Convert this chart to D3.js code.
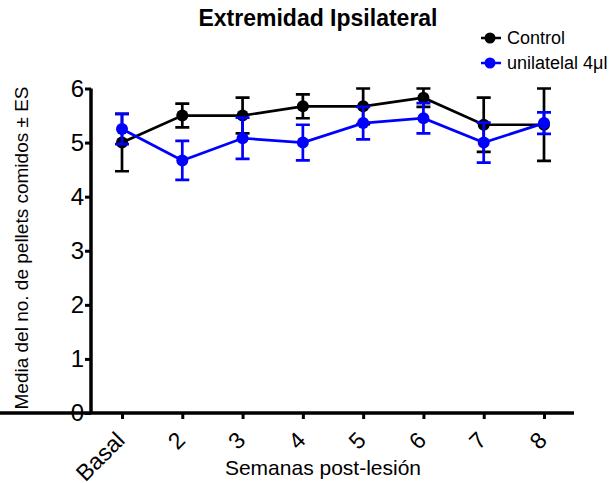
<!DOCTYPE html>
<html>
<head>
<meta charset="utf-8">
<script src="https://cdn.jsdelivr.net/npm/d3@7"></script>
<style>
  body { margin: 0; background: #fff; }
  text { font-family: "Liberation Sans", Arial, sans-serif; }
</style>
</head>
<body>
<div id="chart"></div>
<script>
// Extremidad ipsilateral: media de pellets comidos por semana
const weeks = ["Basal", "2", "3", "4", "5", "6", "7", "8"];
const controlMean = [5.0, 5.5, 5.5, 5.67, 5.67, 5.83, 5.33, 5.33];
const controlErr  = [0.53, 0.22, 0.33, 0.22, 0.33, 0.17, 0.5, 0.67];
const lesionMean  = [5.25, 4.67, 5.08, 5.0, 5.36, 5.45, 5.0, 5.36];
const lesionErr   = [0.28, 0.36, 0.38, 0.33, 0.3, 0.28, 0.37, 0.2];
const yTicks = [0, 1, 2, 3, 4, 5, 6];

const series = [
  {name: "Control", color: "#000", mean: controlMean, err: controlErr},
  {name: "unilatelal 4\u03bcl", color: "#0000ff", mean: lesionMean, err: lesionErr}
];

const width = 614, height = 483;
const svg = d3.select("#chart")
  .append("svg")
  .attr("width", width)
  .attr("height", height);

const x = d3.scalePoint()
  .domain(weeks)
  .range([122, 544]);

const y = d3.scaleLinear()
  .domain([0, 6])
  .range([413, 88.5]);

// axes
const yAxis = svg.append("g")
  .attr("transform", "translate(91,0)")
  .call(d3.axisLeft(y).tickValues(yTicks).tickFormat(d3.format("d")).tickSize(6).tickPadding(1));

const xAxis = svg.append("g")
  .attr("transform", "translate(0,413)")
  .call(d3.axisBottom(x).tickSize(6).tickPadding(4));

[yAxis, xAxis].forEach(g => {
  g.select(".domain").attr("stroke", "#000").attr("stroke-width", 3.5);
  g.selectAll(".tick line").attr("stroke", "#000").attr("stroke-width", 3);
  g.selectAll(".tick text")
    .attr("fill", "#000")
    .style("font-family", "'Liberation Sans', Arial, sans-serif");
});
yAxis.selectAll(".tick text").style("font-size", "24px");

// remove the outer tick marks from the domain path
yAxis.select(".domain").attr("d", `M0,${y(6)}V${y(0)}`);
xAxis.select(".domain").attr("d", `M-2,0H574`);

xAxis.selectAll(".tick text")
  .style("font-size", "23px")
  .attr("x", 0)
  .attr("y", 0)
  .attr("text-anchor", "end")
  .attr("dy", "0.35em")
  .attr("transform", "translate(-2,23) rotate(-45)");

// series
series.forEach(s => {
  const g = svg.append("g");
  const pts = weeks.map((w, i) => ({w, m: s.mean[i], e: s.err[i]}));

  g.append("path")
    .datum(pts)
    .attr("fill", "none")
    .attr("stroke", s.color)
    .attr("stroke-width", 2.7)
    .attr("d", d3.line().x(d => x(d.w)).y(d => y(d.m)));

  g.selectAll(".err")
    .data(pts)
    .enter()
    .append("path")
    .attr("fill", "none")
    .attr("stroke", s.color)
    .attr("stroke-width", 2.7)
    .attr("d", d => {
      const cx = x(d.w), hi = y(d.m + d.e), lo = y(d.m - d.e);
      return `M${cx},${hi}V${lo}M${cx - 7},${hi}H${cx + 7}M${cx - 7},${lo}H${cx + 7}`;
    });

  g.selectAll("circle")
    .data(pts)
    .enter()
    .append("circle")
    .attr("cx", d => x(d.w))
    .attr("cy", d => y(d.m))
    .attr("r", 6)
    .attr("fill", s.color);
});

// title & labels
svg.append("text")
  .attr("x", 318)
  .attr("y", 26)
  .attr("text-anchor", "middle")
  .style("font-size", "23px")
  .style("font-weight", "bold")
  .text("Extremidad Ipsilateral");

svg.append("text")
  .attr("x", 323)
  .attr("y", 475)
  .attr("text-anchor", "middle")
  .style("font-size", "21px")
  .text("Semanas post-lesión");

svg.append("text")
  .attr("transform", "translate(28,248) rotate(-90)")
  .attr("text-anchor", "middle")
  .style("font-size", "19px")
  .text("Media del no. de pellets comidos \u00b1 ES");

// legend
const legend = svg.append("g")
  .attr("transform", "translate(481,38)");

series.forEach((s, i) => {
  const row = legend.append("g").attr("transform", `translate(0,${i * 25})`);
  row.append("line")
    .attr("x1", 0).attr("x2", 20)
    .attr("stroke", s.color).attr("stroke-width", 2.5);
  row.append("circle")
    .attr("cx", 9).attr("r", 5.5).attr("fill", s.color);
  row.append("text")
    .attr("x", 26)
    .attr("dy", "0.35em")
    .style("font-size", "18px")
    .text(s.name);
});
</script>
</body>
</html>
